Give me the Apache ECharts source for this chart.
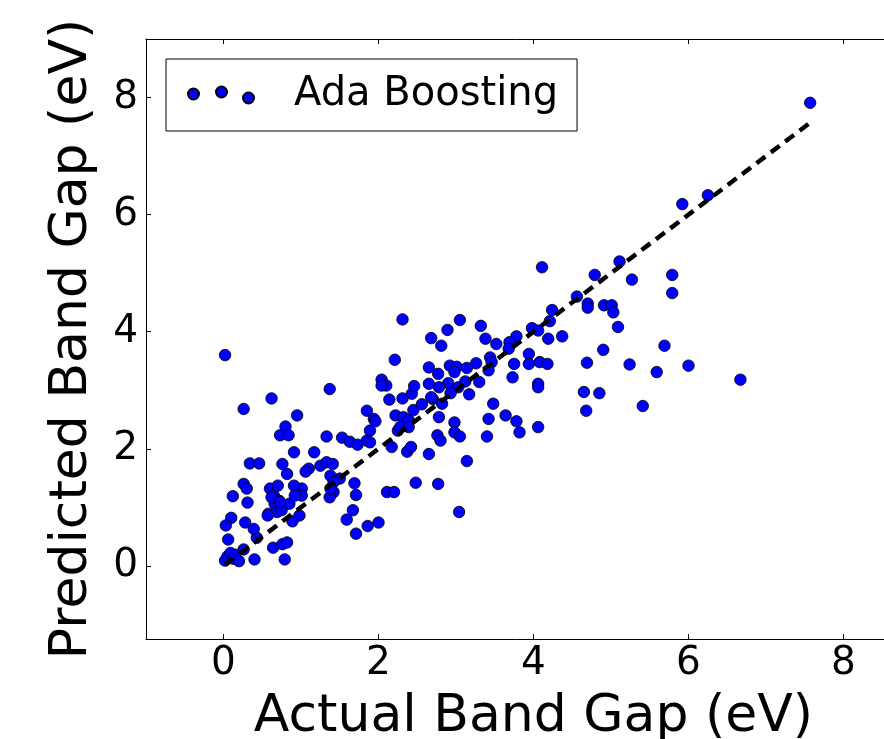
<!DOCTYPE html>
<html>
<head>
<meta charset="utf-8">
<script src="https://cdn.jsdelivr.net/npm/echarts@6/dist/echarts.min.js"></script>
<style>
html,body{margin:0;padding:0;background:#fff;overflow:hidden;}
#chart{width:884px;height:739px;}
</style>
</head>
<body>
<div id="chart"></div>
<script>
// Actual band gap (x) values, eV
const actualGap = [
0.02,0.05,0.09,0.13,0.15,0.20,0.26,0.40,0.79,0.06,0.43,0.64,0.76,0.82,0.10,0.03,0.28,0.39,0.12,0.31,
0.26,0.30,0.34,0.46,0.02,0.26,0.62,0.95,1.37,0.80,0.73,0.84,0.91,1.17,0.82,0.76,0.60,0.70,0.65,0.72,
0.66,0.58,0.69,0.75,0.62,0.85,0.73,0.57,0.98,0.89,1.01,0.91,1.01,0.92,1.25,1.10,1.06,1.33,1.41,1.50,
1.38,1.42,1.37,1.42,1.38,1.33,1.53,1.63,1.73,1.85,1.94,1.96,1.89,1.85,1.89,1.71,1.69,1.59,1.67,1.71,
1.86,2.00,2.11,2.20,2.04,2.10,2.04,2.14,2.31,2.43,2.46,2.21,2.31,2.22,2.32,2.39,2.25,2.28,2.39,2.45,
2.17,2.37,2.42,2.65,2.48,2.77,2.56,2.65,2.65,2.68,2.81,2.89,3.05,3.32,2.77,2.70,2.92,3.01,3.14,3.26,
3.44,3.46,3.42,3.30,3.17,3.03,2.98,2.90,2.78,2.68,2.82,2.93,3.12,3.48,3.64,3.78,3.42,4.06,2.98,2.78,
2.76,2.80,2.98,3.05,3.40,3.82,3.14,3.04,3.38,3.52,3.78,3.69,3.68,3.94,3.94,4.08,4.18,3.75,3.73,4.06,
4.06,3.98,4.06,4.19,4.37,4.24,4.21,4.11,4.56,4.79,4.70,4.70,4.91,5.01,5.03,5.09,4.90,4.69,4.65,4.85,
4.68,5.11,5.27,5.79,5.79,5.69,5.24,5.59,6.00,6.67,5.41,5.92,6.25,7.57
];
// Predicted band gap (y) values, eV
const predictedGap = [
0.09,0.16,0.22,0.12,0.19,0.08,0.28,0.11,0.11,0.45,0.48,0.31,0.37,0.40,0.82,0.69,0.74,0.63,1.19,1.08,
1.40,1.32,1.75,1.75,3.60,2.68,2.86,2.57,3.02,2.38,2.23,2.23,1.94,1.94,1.57,1.74,1.32,1.37,1.20,1.11,
1.06,0.89,0.92,0.95,1.17,1.06,1.09,0.86,0.86,0.76,1.32,1.37,1.20,1.20,1.71,1.66,1.61,1.77,1.74,1.49,
1.54,1.26,1.17,1.43,1.32,2.21,2.19,2.12,2.07,2.65,2.51,2.47,2.31,2.14,2.11,1.21,1.41,0.79,0.95,0.55,
0.68,0.74,1.26,1.26,3.18,3.08,3.08,2.84,2.86,2.94,3.07,3.52,4.21,2.57,2.54,2.49,2.31,2.37,2.37,2.66,
2.03,1.95,2.03,1.91,1.42,1.40,2.76,3.39,3.11,3.89,3.76,4.03,4.20,4.10,3.28,2.85,3.42,3.40,3.38,3.46,
3.56,3.48,3.34,3.14,2.93,3.05,3.31,3.12,3.05,2.88,2.77,2.95,3.15,2.77,2.57,2.47,2.51,2.37,2.45,2.54,
2.23,2.14,2.28,2.21,2.21,2.28,1.79,0.92,3.88,3.79,3.92,3.82,3.71,3.62,3.45,3.48,3.45,3.45,3.22,3.11,
3.05,4.06,4.02,3.88,3.92,4.37,4.18,5.10,4.60,4.97,4.48,4.41,4.45,4.45,4.33,4.08,3.69,3.47,2.97,2.95,
2.65,5.20,4.89,4.97,4.66,3.76,3.44,3.31,3.42,3.18,2.73,6.18,6.33,7.91
];
const xTicks = [0, 2, 4, 6, 8];
const yTicks = [0, 2, 4, 6, 8];
const seriesName = 'Ada Boosting';
const xTitle = 'Actual Band Gap (eV)';
const yTitle = 'Predicted Band Gap (eV)';

const points = actualGap.map((v, i) => [v, predictedGap[i]]);
const lo = Math.min(...actualGap), hi = Math.max(...actualGap);
const parity = [[lo, lo], [hi, hi]];

const FONT = 'DejaVu Sans';
const chart = echarts.init(document.getElementById('chart'), null, {renderer: 'canvas'});

const legendIcon = 'path://M0,7.5a5.5,5.5 0 1,0 11,0a5.5,5.5 0 1,0 -11,0z' +
  'M28,5.5a5.5,5.5 0 1,0 11,0a5.5,5.5 0 1,0 -11,0z' +
  'M55,11.5a5.5,5.5 0 1,0 11,0a5.5,5.5 0 1,0 -11,0z';

chart.setOption({
  backgroundColor: '#ffffff',
  animation: false,
  textStyle: {fontFamily: FONT},
  grid: {left: 146, top: 39, width: 775, height: 600, containLabel: false, outerBoundsMode: 'none'},
  legend: {
    show: true,
    left: 166, top: 59,
    padding: [16, 19, 16, 21],
    borderColor: '#000', borderWidth: 1,
    backgroundColor: '#fff',
    itemWidth: 66, itemHeight: 17,
    data: [{name: seriesName, icon: legendIcon}],
    textStyle: {fontFamily: FONT, fontSize: 40, color: '#000', padding: [0, 0, 0, 35]}
  },
  xAxis: [{
    type: 'value', min: -1, max: 9, position: 'bottom',
    name: xTitle, nameLocation: 'middle', nameGap: 52,
    nameTextStyle: {fontFamily: FONT, fontSize: 52, color: '#000'},
    splitLine: {show: false},
    axisLine: {show: true, onZero: false, lineStyle: {color: '#000', width: 1}},
    axisTick: {show: true, inside: true, length: 5, customValues: xTicks, lineStyle: {color: '#000'}},
    axisLabel: {show: true, customValues: xTicks, fontFamily: FONT, fontSize: 39, color: '#000', margin: 5}
  }, {
    type: 'value', min: -1, max: 9, position: 'top',
    splitLine: {show: false},
    axisLine: {show: true, onZero: false, lineStyle: {color: '#000', width: 1}},
    axisTick: {show: true, inside: true, length: 5, customValues: xTicks, lineStyle: {color: '#000'}},
    axisLabel: {show: false}
  }],
  yAxis: [{
    type: 'value', min: -1.25, max: 9, position: 'left',
    name: yTitle, nameLocation: 'middle', nameGap: 48, nameRotate: 90,
    nameTextStyle: {fontFamily: FONT, fontSize: 52, color: '#000'},
    splitLine: {show: false},
    axisLine: {show: true, onZero: false, lineStyle: {color: '#000', width: 1}},
    axisTick: {show: true, inside: true, length: 5, customValues: yTicks, lineStyle: {color: '#000'}},
    axisLabel: {show: true, customValues: yTicks, fontFamily: FONT, fontSize: 39, color: '#000', margin: 8}
  }, {
    type: 'value', min: -1.25, max: 9, position: 'right',
    splitLine: {show: false},
    axisLine: {show: true, onZero: false, lineStyle: {color: '#000', width: 1}},
    axisTick: {show: true, inside: true, length: 5, customValues: yTicks, lineStyle: {color: '#000'}},
    axisLabel: {show: false}
  }],
  series: [{
    name: seriesName,
    type: 'scatter',
    xAxisIndex: 0, yAxisIndex: 0,
    data: points,
    symbol: 'circle',
    symbolSize: 11.5,
    itemStyle: {color: '#0000ff', borderColor: '#000', borderWidth: 0.8, opacity: 1},
    z: 2
  }, {
    name: 'parity',
    type: 'line',
    xAxisIndex: 0, yAxisIndex: 0,
    data: parity,
    symbol: 'none',
    lineStyle: {color: '#000', width: 4.5, type: [11, 7], cap: 'butt'},
    z: 3,
    silent: true
  }]
});
</script>
</body>
</html>
